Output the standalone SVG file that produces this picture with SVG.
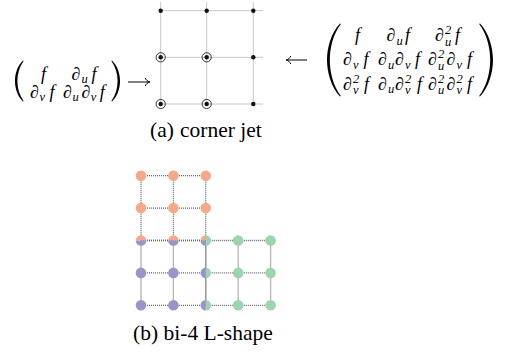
<svg xmlns="http://www.w3.org/2000/svg" width="510" height="352" viewBox="0 0 510 352">
<style>
.m{font-family:"Liberation Serif","Times New Roman",serif;font-style:italic;font-size:18px;fill:#000}
.s{font-size:12.5px}
.d{font-style:normal}
.cap{font-family:"Liberation Serif","Times New Roman",serif;font-size:21.5px;fill:#000}
.gl{stroke:#c8c8c8;stroke-width:1;fill:none}
.dot{fill:#111}
.ring{fill:none;stroke:#222;stroke-width:0.9}
.dl{stroke:#6a6a6a;stroke-width:1.3;stroke-dasharray:1 1;fill:none}
.o{fill:#f5a98b}.p{fill:#9c94c8}.g{fill:#9dd4ae}
.ar{stroke:#000;stroke-width:1;fill:none}
.par{fill:#000}
</style>
<defs>
<circle id="full" r="5.3"/>
<path id="ht" d="M-5.3 0A5.3 5.3 0 0 1 5.3 0Z"/>
<path id="hb" d="M-5.3 0A5.3 5.3 0 0 0 5.3 0Z"/>
<path id="hl" d="M0 -5.3A5.3 5.3 0 0 0 0 5.3Z"/>
<path id="hr" d="M0 -5.3A5.3 5.3 0 0 1 0 5.3Z"/>
<path id="qtl" d="M0 0L-5.3 0A5.3 5.3 0 0 1 0 -5.3Z"/>
<path id="qbl" d="M0 0L-5.3 0A5.3 5.3 0 0 0 0 5.3Z"/>
</defs>

<g id="left-matrix">
<path class="par" d="M23 60.5C17.2 66 15 74 15 81C15 88 17.2 96 23 101.5L23.6 101C19.3 95 17.4 88 17.4 81C17.4 74 19.3 67 23.6 61Z"/>
<path class="par" d="M112 60.5C117.8 66 120 74 120 81C120 88 117.8 96 112 101.5L111.4 101C115.7 95 117.6 88 117.6 81C117.6 74 115.7 67 111.4 61Z"/>
<text class="m"><tspan x="41" y="79.5">f</tspan></text>
<text class="m"><tspan class="d" x="71.5" y="79.5">∂</tspan><tspan class="s" x="81.5" y="83">u</tspan><tspan x="91.5" y="79.5">f</tspan></text>
<text class="m"><tspan class="d" x="30" y="97.5">∂</tspan><tspan class="s" x="39.5" y="101">v</tspan><tspan x="49.5" y="97.5">f</tspan></text>
<text class="m"><tspan class="d" x="63" y="97.5">∂</tspan><tspan class="s" x="72.5" y="101">u</tspan><tspan class="d" x="81.5" y="97.5">∂</tspan><tspan class="s" x="90.8" y="101">v</tspan><tspan x="99.8" y="97.5">f</tspan></text>
</g>

<g id="right-matrix">
<path class="par" d="M340 23.5C331 33 327 48 327 60C327 72 331 87 340 96.5L340.8 96C333.2 86 329.8 72 329.8 60C329.8 48 333.2 34 340.8 24Z"/>
<path class="par" d="M480 23.5C489 33 493 48 493 60C493 72 489 87 480 96.5L479.2 96C486.8 86 490.2 72 490.2 60C490.2 48 486.8 34 479.2 24Z"/>
<text class="m"><tspan x="355" y="41">f</tspan></text>
<text class="m"><tspan class="d" x="386.5" y="41">∂</tspan><tspan class="s" x="396.5" y="44.5">u</tspan><tspan x="405" y="41">f</tspan></text>
<text class="m"><tspan class="d" x="435" y="41">∂</tspan><tspan class="s" x="445" y="34">2</tspan><tspan class="s" x="445" y="45.5">u</tspan><tspan x="455" y="41">f</tspan></text>

<text class="m"><tspan class="d" x="343" y="65">∂</tspan><tspan class="s" x="353" y="68.5">v</tspan><tspan x="363.5" y="65">f</tspan></text>
<text class="m"><tspan class="d" x="378" y="65">∂</tspan><tspan class="s" x="388" y="68.5">u</tspan><tspan class="d" x="395" y="65">∂</tspan><tspan class="s" x="405" y="68.5">v</tspan><tspan x="415" y="65">f</tspan></text>
<text class="m"><tspan class="d" x="428" y="65">∂</tspan><tspan class="s" x="438" y="58">2</tspan><tspan class="s" x="438" y="69.5">u</tspan><tspan class="d" x="446.5" y="65">∂</tspan><tspan class="s" x="456.5" y="68.5">v</tspan><tspan x="467" y="65">f</tspan></text>

<text class="m"><tspan class="d" x="343" y="89.5">∂</tspan><tspan class="s" x="353" y="82.5">2</tspan><tspan class="s" x="353" y="94">v</tspan><tspan x="364" y="89.5">f</tspan></text>
<text class="m"><tspan class="d" x="378" y="89.5">∂</tspan><tspan class="s" x="388" y="93">u</tspan><tspan class="d" x="395" y="89.5">∂</tspan><tspan class="s" x="405" y="82.5">2</tspan><tspan class="s" x="405" y="94">v</tspan><tspan x="417" y="89.5">f</tspan></text>
<text class="m"><tspan class="d" x="428" y="89.5">∂</tspan><tspan class="s" x="438" y="82.5">2</tspan><tspan class="s" x="438" y="94">u</tspan><tspan class="d" x="446.5" y="89.5">∂</tspan><tspan class="s" x="456.5" y="82.5">2</tspan><tspan class="s" x="456.5" y="94">v</tspan><tspan x="467" y="89.5">f</tspan></text>
</g>

<g id="arrows">
<path class="ar" d="M128 82H149.5M145.2 78C146 80 147.5 81.3 150 82C147.5 82.7 146 84 145.2 86"/>
<path class="ar" d="M307 60H286.5M290.8 56C290 58 288.5 59.3 286 60C288.5 60.7 290 62 290.8 64"/>
</g>

<g id="corner-grid">
<path class="gl" d="M160.7 2V104M206.7 2V104M253.3 2V104M160.7 10.7H263M160.7 57.3H263M160.7 104H263"/>
<circle class="dot" cx="160.7" cy="10.7" r="2.2"/>
<circle class="dot" cx="206.7" cy="10.7" r="2.2"/>
<circle class="dot" cx="253.3" cy="10.7" r="2.2"/>
<circle class="dot" cx="160.7" cy="57.3" r="2.2"/>
<circle class="dot" cx="206.7" cy="57.3" r="2.2"/>
<circle class="dot" cx="253.3" cy="57.3" r="2.2"/>
<circle class="dot" cx="160.7" cy="104" r="2.2"/>
<circle class="dot" cx="206.7" cy="104" r="2.2"/>
<circle class="dot" cx="253.3" cy="104" r="2.2"/>
<circle class="ring" cx="160.7" cy="57.3" r="4.6"/>
<circle class="ring" cx="206.7" cy="57.3" r="4.6"/>
<circle class="ring" cx="160.7" cy="104" r="4.6"/>
<circle class="ring" cx="206.7" cy="104" r="4.6"/>
</g>

<text id="caption-a" class="cap" x="150" y="137">(a)<tspan x="180">corner jet</tspan></text>

<g id="connectors">
<path class="dl" d="M141 175.7H205.8M141 208.1H205.8M141 240.5H205.8M141 175.7V240.5M173.4 175.7V240.5M205.8 175.7V240.5"/>
<path class="dl" d="M141 240.5H205.8M141 272.9H205.8M141 305.3H205.8M141 240.5V305.3M173.4 240.5V305.3M205.8 240.5V305.3"/>
<path class="dl" d="M205.8 240.5H270.6M205.8 272.9H270.6M205.8 305.3H270.6M205.8 240.5V305.3M238.2 240.5V305.3M270.6 240.5V305.3"/>
</g>

<g id="patch-orange">
<use href="#full" class="o" x="141" y="175.7"/>
<use href="#full" class="o" x="173.4" y="175.7"/>
<use href="#full" class="o" x="205.8" y="175.7"/>
<use href="#full" class="o" x="141" y="208.1"/>
<use href="#full" class="o" x="173.4" y="208.1"/>
<use href="#full" class="o" x="205.8" y="208.1"/>
<use href="#ht" class="o" x="141" y="240.5"/>
<use href="#ht" class="o" x="173.4" y="240.5"/>
<use href="#qtl" class="o" x="205.8" y="240.5"/>
</g>
<g id="patch-purple">
<use href="#hb" class="p" x="141" y="240.5"/>
<use href="#hb" class="p" x="173.4" y="240.5"/>
<use href="#qbl" class="p" x="205.8" y="240.5"/>
<use href="#full" class="p" x="141" y="272.9"/>
<use href="#full" class="p" x="173.4" y="272.9"/>
<use href="#hl" class="p" x="205.8" y="272.9"/>
<use href="#full" class="p" x="141" y="305.3"/>
<use href="#full" class="p" x="173.4" y="305.3"/>
<use href="#hl" class="p" x="205.8" y="305.3"/>
</g>
<g id="patch-green">
<use href="#hr" class="g" x="205.8" y="240.5"/>
<use href="#full" class="g" x="238.2" y="240.5"/>
<use href="#full" class="g" x="270.6" y="240.5"/>
<use href="#hr" class="g" x="205.8" y="272.9"/>
<use href="#full" class="g" x="238.2" y="272.9"/>
<use href="#full" class="g" x="270.6" y="272.9"/>
<use href="#hr" class="g" x="205.8" y="305.3"/>
<use href="#full" class="g" x="238.2" y="305.3"/>
<use href="#full" class="g" x="270.6" y="305.3"/>
</g>

<text id="caption-b" class="cap" x="133" y="340">(b)<tspan x="163.5">bi-4 L-shape</tspan></text>
</svg>
